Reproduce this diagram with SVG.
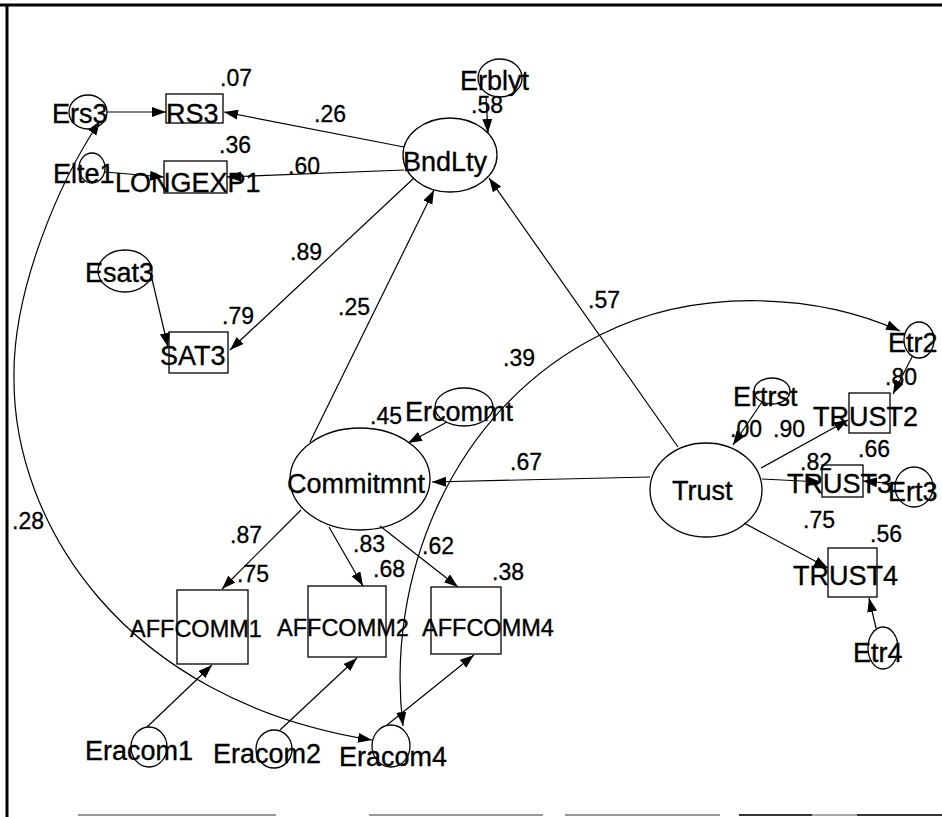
<svg xmlns="http://www.w3.org/2000/svg" width="942" height="817" viewBox="0 0 942 817">
  <defs>
    <marker id="arrow" markerUnits="userSpaceOnUse" markerWidth="15" markerHeight="11" refX="14" refY="5" orient="auto-start-reverse">
      <path d="M0,0 L14,5 L0,10 z" fill="#000"/>
    </marker>
    <style>
      .lbl { font-family: "Liberation Sans", Arial, sans-serif; font-size: 27px; fill: #000; stroke: #000; stroke-width: 0.35; }
      .sm { font-family: "Liberation Sans", Arial, sans-serif; font-size: 23.5px; fill: #000; stroke: #000; stroke-width: 0.35; }
      .num { font-family: "Liberation Sans", Arial, sans-serif; font-size: 23px; fill: #000; stroke: #000; stroke-width: 0.3; }
      .shape { fill: none; stroke: #000; stroke-width: 1.3; }
      .edge { fill: none; stroke: #000; stroke-width: 1.2; marker-end: url(#arrow); }
      .cov { fill: none; stroke: #000; stroke-width: 1.2; marker-start: url(#arrow); marker-end: url(#arrow); }
    </style>
  </defs>

  <rect width="942" height="817" fill="#fff"/>

  <!-- frame -->
  <g id="frame" stroke-linecap="butt">
    <line x1="0" y1="5" x2="942" y2="5" stroke="#000" stroke-width="3"/>
    <line x1="7" y1="4" x2="7" y2="817" stroke="#000" stroke-width="3"/>
    <line x1="78" y1="815" x2="276" y2="815" stroke="#999" stroke-width="2"/>
    <line x1="369" y1="815" x2="543" y2="815" stroke="#999" stroke-width="2"/>
    <line x1="565" y1="815" x2="720" y2="815" stroke="#999" stroke-width="2"/>
    <line x1="739" y1="815" x2="812" y2="815" stroke="#333" stroke-width="2"/>
    <line x1="812" y1="815" x2="857" y2="815" stroke="#aaa" stroke-width="2"/>
    <line x1="857" y1="815" x2="942" y2="815" stroke="#333" stroke-width="2"/>
  </g>

  <!-- paths and covariances -->
  <g id="connectors">
    <line class="edge" x1="107" y1="112" x2="166" y2="112"/>
    <line class="edge" x1="404" y1="147" x2="224" y2="112"/>
    <line class="edge" x1="404" y1="170" x2="227" y2="177"/>
    <line class="edge" x1="105" y1="172" x2="164" y2="177"/>
    <line class="edge" x1="486" y1="96" x2="488" y2="133"/>
    <line class="edge" x1="152" y1="279" x2="168" y2="347"/>
    <line class="edge" x1="414" y1="178" x2="230" y2="350"/>
    <line class="edge" x1="310" y1="442" x2="434" y2="190"/>
    <line class="edge" x1="678" y1="447" x2="489" y2="178"/>
    <line class="edge" x1="650" y1="477" x2="432" y2="482"/>
    <line class="edge" x1="447" y1="422" x2="408" y2="443"/>
    <line class="edge" x1="301" y1="510" x2="222" y2="589"/>
    <line class="edge" x1="329" y1="527" x2="363" y2="586"/>
    <line class="edge" x1="380" y1="526" x2="458" y2="587"/>
    <line class="edge" x1="147" y1="727" x2="212" y2="665"/>
    <line class="edge" x1="280" y1="730" x2="357" y2="658"/>
    <line class="edge" x1="387" y1="725" x2="474" y2="655"/>
    <line class="edge" x1="762" y1="402" x2="733" y2="445"/>
    <line class="edge" x1="761" y1="468" x2="848" y2="420"/>
    <line class="edge" x1="762" y1="479" x2="821" y2="482"/>
    <line class="edge" x1="896" y1="484" x2="863" y2="481"/>
    <line class="edge" x1="744" y1="523" x2="828" y2="568"/>
    <line class="edge" x1="912" y1="357" x2="893" y2="394"/>
    <line class="edge" x1="876" y1="628" x2="869" y2="598"/>
    <path class="cov" d="M403,726 C385,580 450,410 600,335 C700,285 820,295 900,331"/>
    <path class="cov" d="M100,121 C60,180 12,290 14,380 C14,520 120,700 372,740"/>
  </g>

  <!-- coefficients -->
  <g id="coefficients" class="num">
    <text x="220" y="86">.07</text>
    <text x="219" y="153">.36</text>
    <text x="314" y="122">.26</text>
    <text x="288" y="174">.60</text>
    <text x="471" y="113">.58</text>
    <text x="290" y="260">.89</text>
    <text x="222" y="324">.79</text>
    <text x="338" y="315">.25</text>
    <text x="588" y="308">.57</text>
    <text x="503" y="366">.39</text>
    <text x="370" y="424">.45</text>
    <text x="510" y="470">.67</text>
    <text x="730" y="437">.00</text>
    <text x="773" y="437">.90</text>
    <text x="885" y="385">.80</text>
    <text x="858" y="457">.66</text>
    <text x="800" y="470">.82</text>
    <text x="803" y="528">.75</text>
    <text x="870" y="542">.56</text>
    <text x="230" y="543">.87</text>
    <text x="237" y="582">.75</text>
    <text x="353" y="552">.83</text>
    <text x="373" y="577">.68</text>
    <text x="422" y="554">.62</text>
    <text x="492" y="580">.38</text>
    <text x="12" y="529">.28</text>
  </g>

  <!-- error terms -->
  <g id="Ers3"><ellipse class="shape" cx="88" cy="112" rx="19" ry="17"/><text class="lbl" x="52" y="123">Ers3</text></g>
  <g id="Elte1"><ellipse class="shape" cx="92" cy="168" rx="13" ry="15"/><text class="lbl" x="53" y="183">Elte1</text></g>
  <g id="Erblyt"><ellipse class="shape" cx="500" cy="78" rx="22" ry="19"/><text class="lbl" x="460" y="90">Erblyt</text></g>
  <g id="Esat3"><ellipse class="shape" cx="125" cy="271" rx="27" ry="21"/><text class="lbl" x="85" y="282">Esat3</text></g>
  <g id="Ercommt"><ellipse class="shape" cx="464" cy="407" rx="29" ry="19"/><text class="lbl" x="405" y="421">Ercommt</text></g>
  <g id="Ertrst"><ellipse class="shape" cx="772" cy="391" rx="18" ry="13"/><text class="lbl" x="733" y="406">Ertrst</text></g>
  <g id="Etr2"><ellipse class="shape" cx="919" cy="340" rx="15" ry="18"/><text class="lbl" x="888" y="352">Etr2</text></g>
  <g id="Ert3"><ellipse class="shape" cx="914" cy="487" rx="19" ry="20"/><text class="lbl" x="888" y="501">Ert3</text></g>
  <g id="Etr4"><ellipse class="shape" cx="883" cy="648" rx="15" ry="21"/><text class="lbl" x="853" y="662">Etr4</text></g>
  <g id="Eracom1"><ellipse class="shape" cx="149" cy="747" rx="18" ry="20"/><text class="lbl" x="85" y="760">Eracom1</text></g>
  <g id="Eracom2"><ellipse class="shape" cx="274" cy="749" rx="18" ry="19"/><text class="lbl" x="213" y="763">Eracom2</text></g>
  <g id="Eracom4"><ellipse class="shape" cx="391" cy="746" rx="19" ry="21"/><text class="lbl" x="339" y="766">Eracom4</text></g>

  <!-- latent variables -->
  <g id="BndLty"><ellipse class="shape" cx="450" cy="155" rx="47" ry="37"/><text class="lbl" x="403" y="171">BndLty</text></g>
  <g id="Commitmnt"><ellipse class="shape" cx="360" cy="479" rx="70" ry="51"/><text class="lbl" x="287" y="493">Commitmnt</text></g>
  <g id="Trust"><ellipse class="shape" cx="706" cy="490" rx="56" ry="47"/><text class="lbl" x="672" y="500">Trust</text></g>

  <!-- observed variables -->
  <g id="RS3"><rect class="shape" x="166" y="94" width="57" height="29"/><text class="lbl" x="166" y="123">RS3</text></g>
  <g id="LONGEXP1"><rect class="shape" x="164" y="161" width="63" height="32"/><text class="lbl" x="115" y="192">LONGEXP1</text></g>
  <g id="SAT3"><rect class="shape" x="169" y="332" width="59" height="41"/><text class="lbl" x="160" y="365">SAT3</text></g>
  <g id="TRUST2"><rect class="shape" x="849" y="393" width="41" height="40"/><text class="lbl" x="813" y="426">TRUST2</text></g>
  <g id="TRUST3"><rect class="shape" x="822" y="465" width="41" height="32"/><text class="lbl" x="787" y="493">TRUST3</text></g>
  <g id="TRUST4"><rect class="shape" x="828" y="548" width="49" height="49"/><text class="lbl" x="793" y="585">TRUST4</text></g>
  <g id="AFFCOMM1"><rect class="shape" x="177" y="590" width="71" height="74"/><text class="sm" x="130" y="637">AFFCOMM1</text></g>
  <g id="AFFCOMM2"><rect class="shape" x="308" y="586" width="78" height="71"/><text class="sm" x="277" y="636">AFFCOMM2</text></g>
  <g id="AFFCOMM4"><rect class="shape" x="431" y="587" width="70" height="67"/><text class="sm" x="422" y="636">AFFCOMM4</text></g>
</svg>
